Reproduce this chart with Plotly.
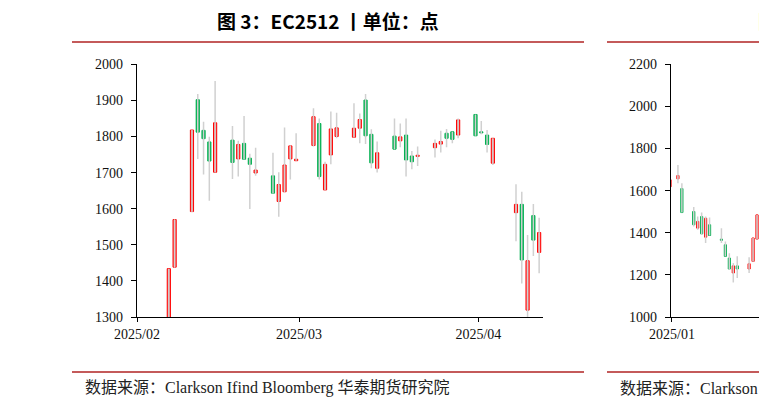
import plotly.graph_objects as go
import pandas as pd

# ---------------- Data: EC2512 daily candles (main chart) ----------------
dates_main = ["2025-02-06", "2025-02-07", "2025-02-10", "2025-02-11", "2025-02-12", "2025-02-13", "2025-02-14",
              "2025-02-17", "2025-02-18", "2025-02-19", "2025-02-20", "2025-02-21",
              "2025-02-24", "2025-02-25", "2025-02-26", "2025-02-27", "2025-02-28",
              "2025-03-03", "2025-03-04", "2025-03-05", "2025-03-06", "2025-03-07",
              "2025-03-10", "2025-03-11", "2025-03-12", "2025-03-13", "2025-03-14",
              "2025-03-17", "2025-03-18", "2025-03-19", "2025-03-20", "2025-03-21",
              "2025-03-24", "2025-03-25", "2025-03-26", "2025-03-27", "2025-03-28",
              "2025-03-31", "2025-04-01", "2025-04-02", "2025-04-03",
              "2025-04-07", "2025-04-08", "2025-04-09", "2025-04-10", "2025-04-11"]
open_main = [1296, 1438, 1592, 1902, 1817, 1785, 1701,
             1790, 1738, 1781, 1740, 1699,
             1691, 1620, 1647, 1738, 1733,
             1775, 1836, 1652, 1749, 1800,
             1798, 1823, 1901, 1806, 1712,
             1801, 1788, 1804, 1746, 1745,
             1769, 1779, 1809, 1813, 1804,
             1861, 1813, 1804, 1726,
             1589, 1612, 1319, 1581, 1479]
high_main = [1434, 1571, 1819, 1918, 1841, 1799, 1954,
             1829, 1788, 1857, 1752, 1769,
             1755, 1701, 1825, 1775, 1809,
             1878, 1850, 1730, 1869, 1866,
             1892, 1864, 1918, 1820, 1786,
             1850, 1836, 1850, 1760, 1772,
             1792, 1816, 1821, 1813, 1850,
             1861, 1843, 1818, 1795,
             1668, 1647, 1527, 1613, 1575]
low_main = [1296, 1437, 1591, 1738, 1695, 1622, 1700,
            1682, 1689, 1736, 1599, 1691,
            1642, 1578, 1646, 1681, 1733,
            1772, 1681, 1651, 1723, 1795,
            1797, 1781, 1779, 1712, 1700,
            1765, 1770, 1689, 1709, 1718,
            1742, 1756, 1770, 1781, 1795,
            1802, 1806, 1756, 1721,
            1510, 1393, 1298, 1469, 1421]
close_main = [1434, 1570, 1818, 1812, 1794, 1732, 1838,
              1728, 1778, 1737, 1723, 1707,
              1643, 1667, 1721, 1774, 1737,
              1855, 1689, 1723, 1821, 1824,
              1823, 1847, 1802, 1727, 1755,
              1765, 1799, 1735, 1730, 1748,
              1781, 1786, 1795, 1792, 1846,
              1802, 1810, 1778, 1795,
              1612, 1458, 1456, 1513, 1534]

# ---------------- Data: neighbouring chart (partly visible) ----------------
dates_side = ["2024-12-31", "2025-01-02", "2025-01-03", "2025-01-06", "2025-01-07", "2025-01-08",
              "2025-01-09", "2025-01-10", "2025-01-13", "2025-01-14", "2025-01-15",
              "2025-01-16", "2025-01-17", "2025-01-20", "2025-01-21", "2025-01-22"]
open_side = [1618, 1656, 1610, 1501, 1422, 1477, 1379, 1438, 1370, 1343, 1280, 1209, 1243, 1228, 1264, 1370]
high_side = [1652, 1722, 1635, 1522, 1477, 1496, 1477, 1473, 1422, 1359, 1303, 1256, 1288, 1284, 1375, 1485]
low_side = [1618, 1635, 1496, 1430, 1414, 1390, 1351, 1387, 1351, 1288, 1224, 1164, 1185, 1209, 1262, 1368]
close_side = [1652, 1672, 1496, 1438, 1454, 1395, 1469, 1387, 1364, 1288, 1228, 1243, 1228, 1253, 1375, 1485]

# ---------------- Text ----------------
title_main = "图 3：EC2512 丨单位：点"
title_side = "图"
source_main = "数据来源：Clarkson Ifind Bloomberg 华泰期货研究院"
source_side = "数据来源：Clarkson"
main_ticks = ["2025-02-01", "2025-03-01", "2025-04-01"]
main_ticktext = ["2025/02", "2025/03", "2025/04"]
side_ticks = ["2025-01-01"]
side_ticktext = ["2025/01"]

W, H = 759, 406
UP_FILL, UP_LINE = "#FF6060", "#FF0000"
DOWN = "#00B050"
WICK = "#D0D0D0"
DAY_MS = 86400000


def px(x):
    return x / W


def py(y):
    return 1 - y / H


def candles(dates, o, h, l, c, xa, ya, bw):
    xs = [pd.Timestamp(d) + pd.Timedelta(hours=12) for d in dates]
    wx, wy = [], []
    for x, hi, lo in zip(xs, h, l):
        wx += [x, x, None]
        wy += [lo, hi, None]
    wick = go.Scatter(x=wx, y=wy, mode="lines", line=dict(color=WICK, width=1.5),
                      hoverinfo="skip", showlegend=False, xaxis=xa, yaxis=ya)
    base = [min(a, b) for a, b in zip(o, c)]
    height = [abs(b - a) for a, b in zip(o, c)]
    up = [b >= a for a, b in zip(o, c)]
    body = go.Bar(x=xs, y=height, base=base, width=bw * DAY_MS,
                  marker=dict(color=[UP_FILL if u else DOWN for u in up],
                              line=dict(color=[UP_LINE if u else DOWN for u in up], width=1)),
                  showlegend=False, xaxis=xa, yaxis=ya)
    return [wick, body]


fig = go.Figure()
for t in candles(dates_main, open_main, high_main, low_main, close_main, "x", "y", 0.55):
    fig.add_trace(t)
for t in candles(dates_side, open_side, high_side, low_side, close_side, "x2", "y2", 0.55):
    fig.add_trace(t)

tick_font = dict(family="Liberation Serif, Times New Roman, serif", size=14, color="#111")
ydom = [py(317), py(64.3)]

fig.update_layout(
    width=W, height=H,
    margin=dict(l=0, r=0, t=0, b=0, pad=0, autoexpand=False),
    paper_bgcolor="white", plot_bgcolor="white",
    barmode="overlay", showlegend=False,
    xaxis=dict(domain=[px(137), px(543)], type="date",
               range=["2025-02-01", "2025-04-12 04:00"],
               tickvals=main_ticks, ticktext=main_ticktext,
               showgrid=False, zeroline=False, showline=True, linecolor="#000", linewidth=1.3,
               ticks="outside", ticklen=4, tickcolor="#000", tickfont=tick_font, anchor="y",
               automargin=False),
    yaxis=dict(domain=ydom, range=[1300, 2000], dtick=100, tick0=1300,
               showgrid=False, zeroline=False, showline=True, linecolor="#000", linewidth=1.3,
               ticks="outside", ticklen=5, tickcolor="#000", tickfont=tick_font,
               ticklabelstandoff=5, anchor="x", automargin=False),
    xaxis2=dict(domain=[px(671), 1.0], type="date",
                range=["2024-12-31 18:00", "2025-01-23"],
                tickvals=side_ticks, ticktext=side_ticktext,
                showgrid=False, zeroline=False, showline=True, linecolor="#000", linewidth=1.3,
                ticks="outside", ticklen=4, tickcolor="#000", tickfont=tick_font, anchor="y2",
                automargin=False),
    yaxis2=dict(domain=ydom, range=[1000, 2200], dtick=200, tick0=1000,
                showgrid=False, zeroline=False, showline=True, linecolor="#000", linewidth=1.3,
                ticks="outside", ticklen=5, tickcolor="#000", tickfont=tick_font,
                ticklabelstandoff=5, anchor="x2", automargin=False),
)

rule = dict(color="#C45A5A", width=2)
fig.add_shape(type="line", xref="paper", yref="paper", x0=px(72), x1=px(584), y0=py(42), y1=py(42), line=rule)
fig.add_shape(type="line", xref="paper", yref="paper", x0=px(72), x1=px(584), y0=py(372), y1=py(372), line=rule)
fig.add_shape(type="line", xref="paper", yref="paper", x0=px(607), x1=1.0, y0=py(42), y1=py(42), line=rule)
fig.add_shape(type="line", xref="paper", yref="paper", x0=px(607), x1=1.0, y0=py(372), y1=py(372), line=rule)

title_font = dict(family="Noto Sans CJK SC", size=19, color="#000", weight="bold")
fig.add_annotation(text=title_main, xref="paper", yref="paper", x=px(328), y=py(20.5),
                   xanchor="center", yanchor="middle", showarrow=False, font=title_font)
fig.add_annotation(text=title_side, xref="paper", yref="paper", x=px(756), y=py(20.5),
                   xanchor="left", yanchor="middle", showarrow=False, font=title_font)

src_font = dict(family="Liberation Serif, Noto Sans CJK SC", size=16, color="#222")
fig.add_annotation(text=source_main, xref="paper", yref="paper", x=px(83), y=py(388),
                   xanchor="left", yanchor="middle", showarrow=False, font=src_font)
fig.add_annotation(text=source_side, xref="paper", yref="paper", x=px(618), y=py(388),
                   xanchor="left", yanchor="middle", showarrow=False, font=src_font)

fig.write_html("out.html", config={"displayModeBar": False},
               post_script="document.body.style.margin='0';document.body.style.overflow='hidden';")
